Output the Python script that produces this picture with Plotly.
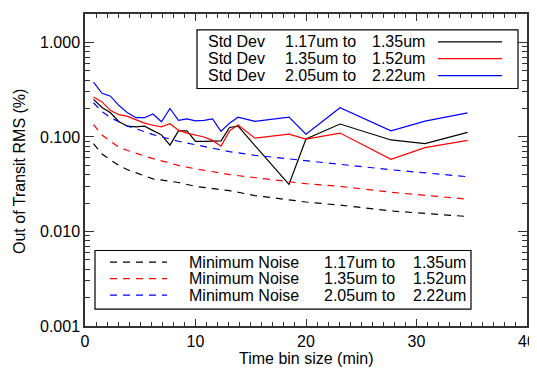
import plotly.graph_objects as go

# ---- data ----
TIME_BIN = [0.77, 1.54, 2.31, 3.08, 3.85, 4.62, 5.38, 6.15, 6.92, 7.69, 8.46, 9.23,
            10.0, 10.77, 11.54, 12.31, 13.08, 13.85, 15.38, 18.46, 20.0, 23.08,
            27.69, 30.77, 34.62]
STD_117 = [0.25, 0.205, 0.18, 0.145, 0.13, 0.128, 0.13, 0.116, 0.105, 0.082, 0.116, 0.116,
           0.09, 0.09, 0.09, 0.091, 0.126, 0.13, 0.081, 0.0315, 0.095, 0.137,
           0.093, 0.085, 0.112]
STD_135 = [0.265, 0.235, 0.19, 0.172, 0.165, 0.152, 0.14, 0.133, 0.128, 0.138, 0.118, 0.11,
           0.104, 0.1, 0.092, 0.08, 0.116, 0.134, 0.097, 0.107, 0.095, 0.11,
           0.058, 0.077, 0.092]
STD_205 = [0.38, 0.29, 0.27, 0.215, 0.18, 0.16, 0.16, 0.175, 0.145, 0.2, 0.15, 0.155,
           0.148, 0.15, 0.155, 0.115, 0.14, 0.162, 0.146, 0.162, 0.107, 0.204,
           0.116, 0.147, 0.18]

NOISE_X = [0.77, 1.54, 2.31, 3.08, 3.85, 4.62, 6.15, 8.46, 10.0, 13.08, 15.38, 20.0,
           23.08, 27.69, 34.62]
NOISE_117 = [0.085, 0.066, 0.057, 0.05, 0.045, 0.042, 0.036, 0.033, 0.03, 0.027, 0.024,
             0.0205, 0.019, 0.0165, 0.0144]
NOISE_135 = [0.135, 0.105, 0.09, 0.078, 0.072, 0.067, 0.059, 0.05, 0.046, 0.04, 0.037,
             0.032, 0.03, 0.026, 0.022]
NOISE_205 = [0.23, 0.185, 0.16, 0.145, 0.13, 0.122, 0.106, 0.09, 0.083, 0.07, 0.064,
             0.056, 0.051, 0.045, 0.038]

STD_LABELS = [("Std Dev", "1.17um to", "1.35um"),
              ("Std Dev", "1.35um to", "1.52um"),
              ("Std Dev", "2.05um to", "2.22um")]
NOISE_LABELS = [("Minimum Noise", "1.17um to", "1.35um"),
                ("Minimum Noise", "1.35um to", "1.52um"),
                ("Minimum Noise", "2.05um to", "2.22um")]
COLORS = ["#000000", "#ff0000", "#0000ff"]

X_TICKS = [0, 10, 20, 30, 40]
Y_TICKS = [0.001, 0.01, 0.1, 1.0]
Y_TICKTEXT = ["0.001", "0.010", "0.100", "1.000"]

# ---- layout geometry (screen pixels of the reference) ----
W, H = 537, 368
OFF = 8  # page body margin that shifts the figure
L, R, T, B = 85, 527, 12, 326
FONT = "Liberation Sans, Arial, Helvetica, sans-serif"
FS = 16
DASH = "7px,6px"


def px(x):
    return (x - L) / (R - L)


def py(y):
    return (B - y) / (B - T)


fig = go.Figure()
for ys, c in zip([STD_117, STD_135, STD_205], COLORS):
    fig.add_trace(go.Scatter(x=TIME_BIN, y=ys, mode="lines",
                             line=dict(color=c, width=1.2), showlegend=False))
for ys, c in zip([NOISE_117, NOISE_135, NOISE_205], COLORS):
    fig.add_trace(go.Scatter(x=NOISE_X, y=ys, mode="lines",
                             line=dict(color=c, width=1.2, dash=DASH), showlegend=False))

shapes = []
annotations = []

# top legend box (Std Dev)
shapes.append(dict(type="rect", xref="paper", yref="paper",
                   x0=px(197), x1=px(518), y0=py(28), y1=py(87),
                   line=dict(color="black", width=1.2), fillcolor="white", layer="above"))
top_rows = [40, 57, 74]
for (a, b, c), yy, col in zip(STD_LABELS, top_rows, COLORS):
    for txt, xx in zip((a, b, c), (206, 283, 370)):
        annotations.append(dict(text=txt, x=px(xx), y=py(yy), xref="paper", yref="paper",
                                xanchor="left", yanchor="middle", showarrow=False,
                                font=dict(family=FONT, size=FS, color="black")))
    shapes.append(dict(type="line", xref="paper", yref="paper",
                       x0=px(438), x1=px(502), y0=py(yy), y1=py(yy),
                       line=dict(color=col, width=1.2), layer="above"))

# bottom legend box (Minimum Noise)
shapes.append(dict(type="rect", xref="paper", yref="paper",
                   x0=px(95), x1=px(471), y0=py(250), y1=py(309),
                   line=dict(color="black", width=1.2), fillcolor="white", layer="above"))
bot_rows = [261.7, 278.3, 295]
for (a, b, c), yy, col in zip(NOISE_LABELS, bot_rows, COLORS):
    for txt, xx in zip((a, b, c), (187, 322, 411)):
        annotations.append(dict(text=txt, x=px(xx), y=py(yy), xref="paper", yref="paper",
                                xanchor="left", yanchor="middle", showarrow=False,
                                font=dict(family=FONT, size=FS, color="black")))
    shapes.append(dict(type="line", xref="paper", yref="paper",
                       x0=px(110), x1=px(167), y0=py(yy), y1=py(yy),
                       line=dict(color=col, width=1.2, dash=DASH), layer="above"))

# axis titles
annotations.append(dict(text="Time bin size (min)", x=px(306), y=py(359), xref="paper",
                        yref="paper", xanchor="center", yanchor="middle", showarrow=False,
                        font=dict(family=FONT, size=FS, color="black")))
annotations.append(dict(text="Out of Transit RMS (%)", x=px(20), y=py(171), xref="paper",
                        yref="paper", xanchor="center", yanchor="middle", showarrow=False,
                        textangle=-90, font=dict(family=FONT, size=FS, color="black")))

axis_common = dict(showgrid=False, zeroline=False, showline=True, linecolor="#333",
                   linewidth=1.5, mirror="allticks", ticks="inside", tickcolor="#333",
                   tickfont=dict(family=FONT, size=FS, color="black"))

fig.update_layout(
    width=W, height=H,
    margin=dict(l=L - OFF, r=W - R + OFF, t=T - OFF, b=H - B + OFF, pad=0),
    paper_bgcolor="white", plot_bgcolor="white",
    shapes=shapes, annotations=annotations,
    xaxis=dict(range=[0, 40], tickvals=X_TICKS, ticklen=7, tickwidth=1,
               minor=dict(dtick=1, ticklen=4, ticks="inside", tickcolor="#333"),
               **axis_common),
    yaxis=dict(type="log", range=[-3, 0.30103], tickvals=Y_TICKS, ticktext=Y_TICKTEXT,
               ticklen=9, tickwidth=1,
               minor=dict(dtick="D1", ticklen=5, ticks="inside", tickcolor="#333"),
               **axis_common),
)

fig.write_html("out.html")
